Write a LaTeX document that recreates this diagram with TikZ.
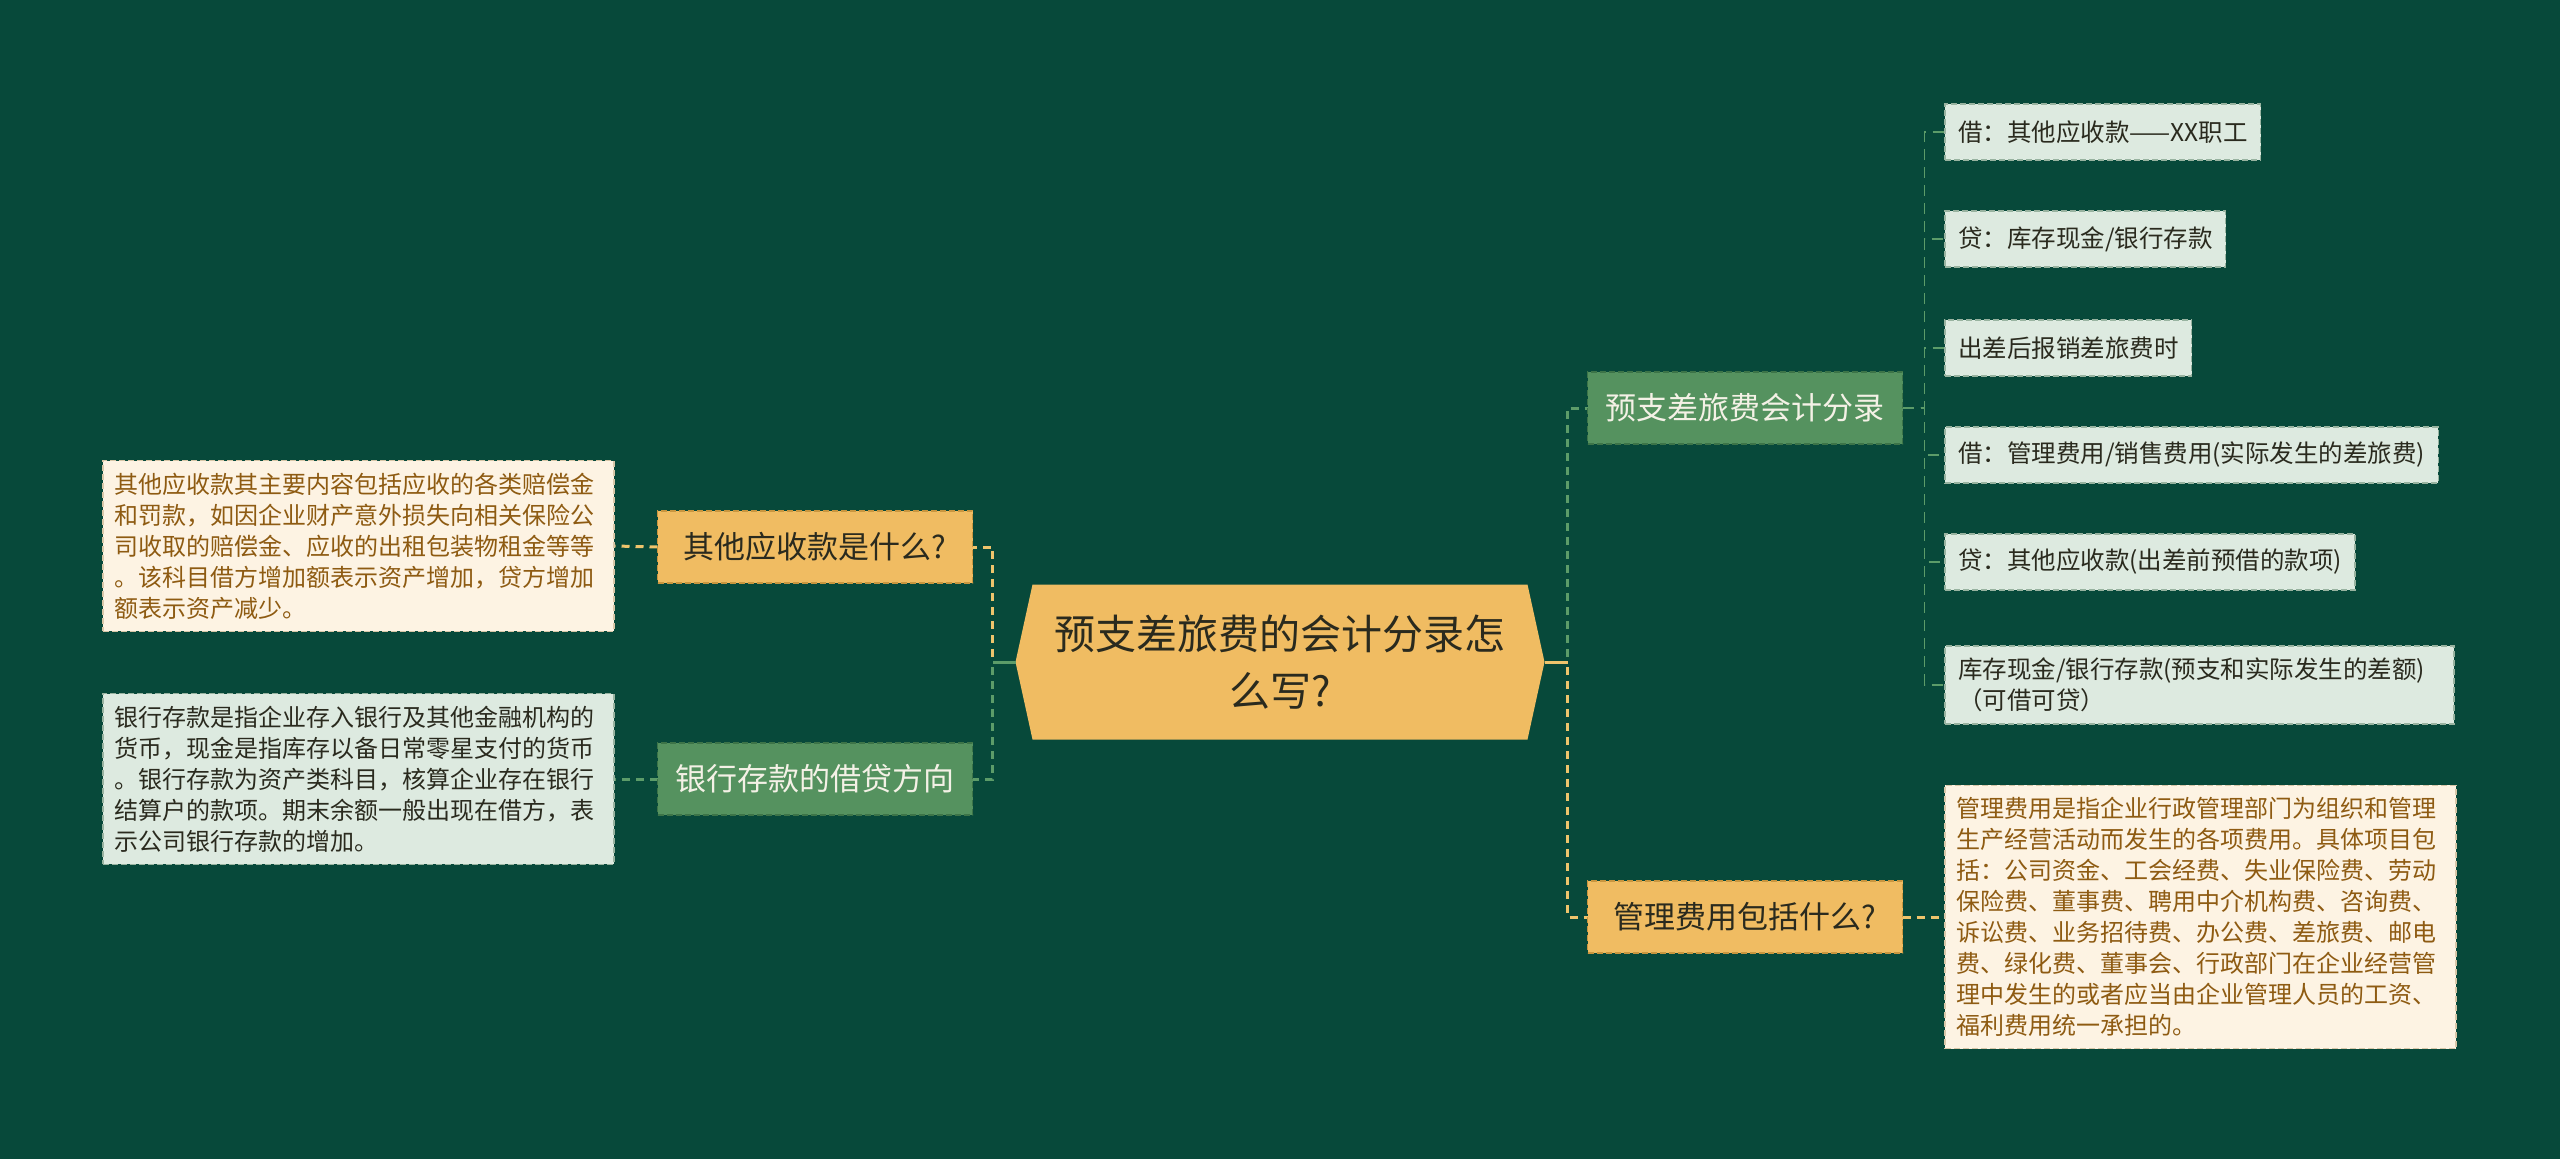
\documentclass[tikz,border=0pt]{standalone}
\usepackage{fontspec}
\newfontfamily\cjk{Noto Sans CJK SC}
\usetikzlibrary{calc}
\pgfdeclarelayer{back}
\pgfdeclarelayer{bg}
\pgfsetlayers{back,bg,main}
\definecolor{bgc}{HTML}{07493A}
\definecolor{ylw}{HTML}{F0BC62}
\definecolor{ylwedge}{HTML}{C9963F}
\definecolor{grn}{HTML}{55925F}
\definecolor{grnedge}{HTML}{3C7448}
\definecolor{leaf}{HTML}{DDEAE0}
\definecolor{leafedge}{HTML}{98B3A0}
\definecolor{cream}{HTML}{FDF3E3}
\definecolor{creamedge}{HTML}{D8C7A8}
\definecolor{brown}{HTML}{8E5B12}
\definecolor{darktxt}{HTML}{2A2A1E}
\definecolor{lighttxt}{HTML}{F4F1E6}
\definecolor{ylwline}{HTML}{EEC46C}
\definecolor{grnline}{HTML}{5C9C69}
\begin{document}
\begin{tikzpicture}[x=1pt,y=1pt,
  every node/.style={font=\cjk, inner sep=0pt, outer sep=0pt},
  lvlone/.style={rectangle, minimum width=315, minimum height=72, draw, line width=1.4pt, dash pattern=on 6pt off 3pt},
  ybox/.style={lvlone, fill=ylw, draw=ylwedge, text=darktxt, font=\cjk\fontsize{31}{38}\selectfont},
  gbox/.style={lvlone, fill=grn, draw=grnedge, text=lighttxt, font=\cjk\fontsize{31}{38}\selectfont},
  leafbox/.style={rectangle, anchor=west, fill=leaf, draw=leafedge, line width=1.2pt, dash pattern=on 6pt off 3pt, inner xsep=13, inner ysep=12, minimum height=56, align=left, text=darktxt, font=\cjk\fontsize{24.5}{31}\selectfont},
  descbox/.style={rectangle, draw, line width=1.2pt, dash pattern=on 6pt off 3pt, inner xsep=11, inner ysep=12, text width=489, align=left, font=\cjk\fontsize{24}{31}\selectfont},
  cdesc/.style={descbox, fill=cream, draw=creamedge, text=brown},
  gdesc/.style={descbox, fill=leaf, draw=leafedge, text=darktxt},
  yconn/.style={draw=ylwline, line width=3pt, dash pattern=on 8pt off 6pt},
  gconn/.style={draw=grnline, line width=3pt, dash pattern=on 8pt off 6pt},
  lconn/.style={draw=grnline, line width=1.8pt, dash pattern=on 11pt off 7pt},
  stubsolid/.style={line width=3pt}
]
\useasboundingbox (0,0) rectangle (2560,-1159);
\begin{pgfonlayer}{back}
\fill[bgc] (0,0) rectangle (2560,-1159);
\end{pgfonlayer}

% root
\node[rectangle, minimum width=529, minimum height=155, align=center, text=darktxt,
      font=\cjk\fontsize{41}{57}\selectfont] (root) at (1280,-662) {预支差旅费的会计分录怎\\么写?};
\begin{pgfonlayer}{bg}
\fill[ylw] ($(root.north west)+(17,0)$) -- ($(root.north east)+(-17,0)$) -- (root.east)
  -- ($(root.south east)+(-17,0)$) -- ($(root.south west)+(17,0)$) -- (root.west) -- cycle;
\end{pgfonlayer}

% level one
\node[ybox] (A) at (815,-547) {其他应收款是什么?};
\node[gbox] (B) at (815,-779) {银行存款的借贷方向};
\node[gbox] (C) at (1745,-408) {预支差旅费会计分录};
\node[ybox] (E) at (1745,-917) {管理费用包括什么?};

% descriptions
\node[cdesc, anchor=east] (D1) at (614,-546) {其他应收款其主要内容包括应收的各类赔偿金\\和罚款，如因企业财产意外损失向相关保险公\\司收取的赔偿金、应收的出租包装物租金等等\\。该科目借方增加额表示资产增加，贷方增加\\额表示资产减少。};
\node[gdesc, anchor=east] (D2) at (614,-779) {银行存款是指企业存入银行及其他金融机构的\\货币，现金是指库存以备日常零星支付的货币\\。银行存款为资产类科目，核算企业存在银行\\结算户的款项。期末余额一般出现在借方，表\\示公司银行存款的增加。};
\node[cdesc, anchor=west] (D3) at (1945,-917) {管理费用是指企业行政管理部门为组织和管理\\生产经营活动而发生的各项费用。具体项目包\\括：公司资金、工会经费、失业保险费、劳动\\保险费、董事费、聘用中介机构费、咨询费、\\诉讼费、业务招待费、办公费、差旅费、邮电\\费、绿化费、董事会、行政部门在企业经营管\\理中发生的或者应当由企业管理人员的工资、\\福利费用统一承担的。};

% leaves
\node[leafbox] (L1) at (1945,-132) {借：其他应收款——XX职工};
\node[leafbox] (L2) at (1945,-239) {贷：库存现金/银行存款};
\node[leafbox] (L3) at (1945,-348) {出差后报销差旅费时};
\node[leafbox] (L4) at (1945,-455) {借：管理费用/销售费用(实际发生的差旅费)};
\node[leafbox] (L5) at (1945,-562) {贷：其他应收款(出差前预借的款项)};
\node[leafbox, text width=483] (L6) at (1945,-685) {库存现金/银行存款(预支和实际发生的差额)\\（可借可贷）};

% connectors
\begin{pgfonlayer}{bg}
\draw[yconn] (root.west) -- ++(-23,0) |- (A.east);
\draw[gconn] (root.west) -- ++(-23,0) |- (B.east);
\draw[grnline, stubsolid] (root.west) -- ++(-23,0);
\draw[gconn] (root.east) -- ++(23,0) |- (C.west);
\draw[yconn] (root.east) -- ++(23,0) |- (E.west);
\draw[ylwline, stubsolid] (root.east) -- ++(23,0);
\draw[yconn] (A.west) -- (D1.east);
\draw[gconn] (B.west) -- (D2.east);
\draw[yconn] (E.east) -- (D3.west);
\foreach \l in {L1,L2,L3,L4,L5,L6}{
  \draw[lconn] (C.east) -- ++(22,0) |- (\l.west);
}
\end{pgfonlayer}
\end{tikzpicture}
\end{document}
